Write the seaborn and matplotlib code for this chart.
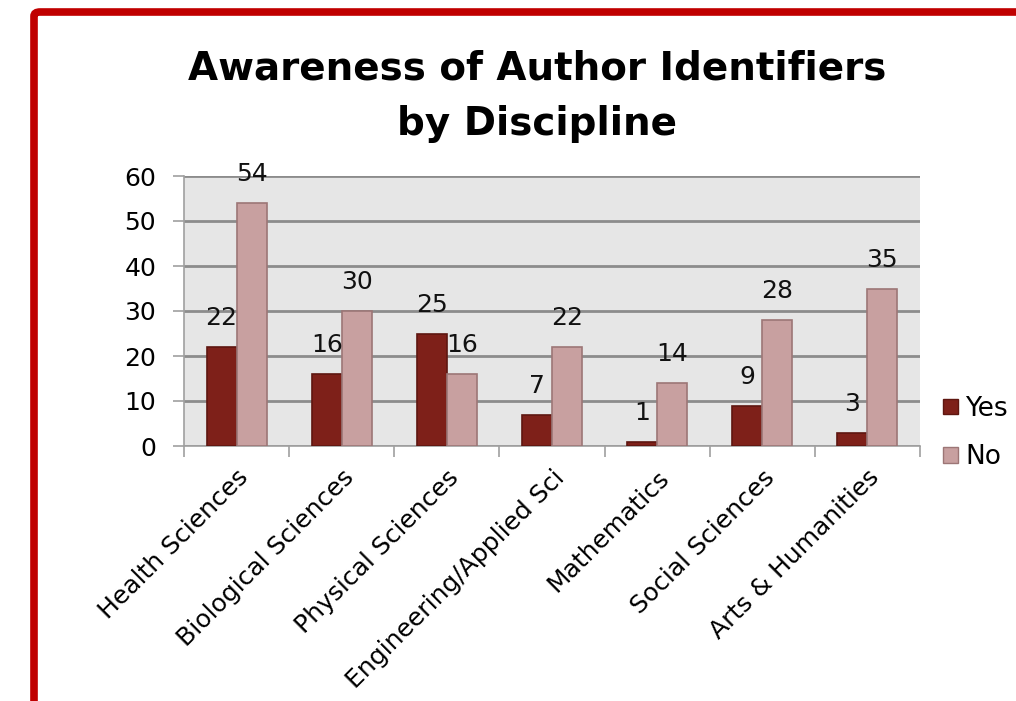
import matplotlib
matplotlib.use('Agg')
import matplotlib.pyplot as plt
from matplotlib.patches import FancyBboxPatch, Patch
import pandas as pd
import seaborn as sns

# Dados do gráfico
disciplinas = ['Health Sciences', 'Biological Sciences', 'Physical Sciences',
               'Engineering/Applied Sci', 'Mathematics', 'Social Sciences',
               'Arts & Humanities']
sim = [22, 16, 25, 7, 1, 9, 3]
nao = [54, 30, 16, 22, 14, 28, 35]
respostas = ['Yes', 'No']
cores = {'Yes': '#7E2019', 'No': '#C8A0A0'}
bordas = {'Yes': '#5E1610', 'No': '#9C7676'}

dados = pd.DataFrame({
    'Discipline': disciplinas * 2,
    'Answer': ['Yes'] * len(sim) + ['No'] * len(nao),
    'Count': sim + nao,
})

sns.set_style('white')
plt.rcParams['font.family'] = ['DejaVu Sans']
plt.rcParams['text.color'] = 'black'
plt.rcParams['xtick.color'] = 'black'
plt.rcParams['ytick.color'] = 'black'

fig = plt.figure(figsize=(10.16, 7.01), dpi=100)
ax = fig.add_axes([184 / 1016, 1 - 446 / 701, (920 - 184) / 1016, (446 - 176) / 701])

sns.barplot(data=dados, x='Discipline', y='Count', hue='Answer',
            hue_order=respostas, palette=cores, width=0.57, saturation=1,
            errorbar=None, ax=ax, legend=False, zorder=3)

# Bordas das barras e rótulos de valores
for container, resp in zip(ax.containers, respostas):
    for barra in container:
        barra.set_edgecolor(bordas[resp])
        barra.set_linewidth(1.2)
    ax.bar_label(container, labels=[str(int(b.get_height())) for b in container],
                 padding=12, fontsize=18, color='#111111')

ax.set_facecolor('#E6E6E6')
ax.set_ylim(0, 60)
ax.set_xlim(-0.5, len(disciplinas) - 0.5)
ax.set_yticks(range(0, 61, 10))
ax.yaxis.grid(True, color='#8C8C8C', linewidth=2, zorder=0)
ax.set_axisbelow(True)
ax.set_xlabel('')
ax.set_ylabel('')

for lado in ['top', 'right']:
    ax.spines[lado].set_visible(False)
for lado in ['left', 'bottom']:
    ax.spines[lado].set_color('#A0A0A0')
    ax.spines[lado].set_linewidth(1.2)

ax.tick_params(axis='y', labelsize=18, length=8, color='#A0A0A0', width=1.2,
               left=True, pad=12, labelcolor='black')
ax.set_xticks(range(len(disciplinas)))
ax.set_xticklabels(disciplinas, rotation=45, ha='right', rotation_mode='anchor',
                   fontsize=18)
ax.tick_params(axis='x', length=0, pad=14, labelcolor='black')
ax.set_xticks([i - 0.5 for i in range(len(disciplinas) + 1)], minor=True)
ax.tick_params(axis='x', which='minor', length=8, color='#A0A0A0', width=1.2,
               bottom=True)

# Legenda
itens = [Patch(facecolor=cores[r], edgecolor=bordas[r], label=r) for r in respostas]
fig.legend(handles=itens, loc='center left', bbox_to_anchor=(943 / 1016, 1 - 433 / 701),
           frameon=False, fontsize=19, handlelength=0.55, handleheight=0.55,
           handletextpad=0.3, labelspacing=0.85, borderaxespad=0, borderpad=0)

# Título
fig.text(537 / 1016, 1 - 96 / 701, 'Awareness of Author Identifiers\nby Discipline',
         ha='center', va='center', fontsize=28, fontweight='bold',
         linespacing=1.6, color='black')

# Moldura vermelha
moldura = FancyBboxPatch((34 / 1016, -0.2), 1.2, 1 - 12 / 701 + 0.2,
                         boxstyle='round,pad=0,rounding_size=0.006',
                         transform=fig.transFigure, fill=False,
                         edgecolor='#C00000', linewidth=5.5, clip_on=False)
fig.patches.append(moldura)

fig.savefig('out.png', dpi=100)
